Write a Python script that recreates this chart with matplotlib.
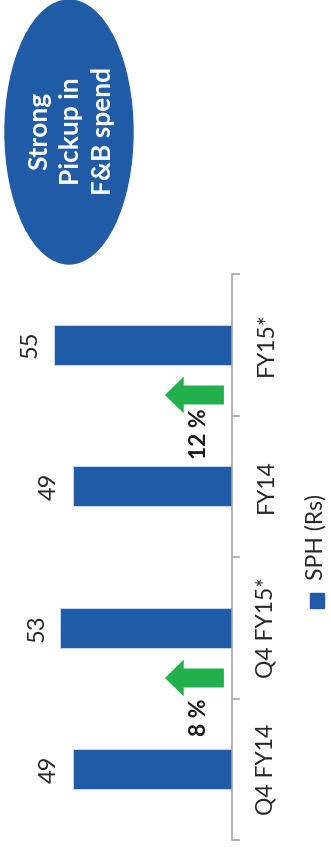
import matplotlib
matplotlib.use('Agg')
import matplotlib.pyplot as plt
from matplotlib.patches import Ellipse, FancyArrow, Rectangle

plt.rcParams['font.family'] = ['Lato', 'DejaVu Sans']

# SPH (spend per head) in Rs
categories = ['Q4 FY14', 'Q4 FY15*', 'FY14', 'FY15*']
sph = [49, 53, 49, 55]
# periods compared for growth: (from, to)
growth_pairs = [(0, 1), (2, 3)]

blue = '#1F5BA6'
green = '#22B04C'
grey = '#A6A6A6'
text_col = '#262626'

W, H = 331, 848
fig = plt.figure(figsize=(W / 100, H / 100), dpi=100)

# bars grow to the left from an axis on the right
ax = fig.add_axes([0, 8 / H, 232 / W, (840 - 274) / H])
pos = list(range(len(categories)))
ax.barh(pos, sph, height=0.28, color=blue, edgecolor='#D0DCEC', linewidth=0.6)
ax.set_xlim(71.6, 0)
ax.set_ylim(-0.5, 3.5)

for s in ['left', 'top', 'bottom']:
    ax.spines[s].set_visible(False)
ax.spines['right'].set_color(grey)
ax.spines['right'].set_linewidth(1.2)
ax.set_xticks([])
ax.yaxis.tick_right()
ax.set_yticks(pos)
ax.set_yticklabels(categories, rotation=90, va='center', fontsize=16.5, color=text_col)
ax.set_yticks([p - 0.5 for p in pos] + [pos[-1] + 0.5], minor=True)
ax.tick_params(axis='y', which='major', length=0, pad=17)
ax.tick_params(axis='y', which='minor', length=6, width=1.2, color=grey)

# value labels beyond the bar ends
for i, v in zip(pos, sph):
    ax.annotate(f'{v}', xy=(v, i), xytext=(-13, 0), textcoords='offset pixels',
                rotation=90, ha='right', va='center', fontsize=17, color=text_col)

# growth arrows with % labels
for a, b in growth_pairs:
    mid = (a + b) / 2
    pct = round((sph[b] / sph[a] - 1) * 100)
    ax.add_patch(FancyArrow(2.5, mid + 0.145, 18.2, 0, width=0.134, head_width=0.26,
                            head_length=5.8, length_includes_head=True,
                            color=green, lw=0))
    ax.text(9.9, mid - 0.13, f'{pct} %', rotation=90, ha='center', va='center',
            fontsize=16.5, fontweight='bold', color='#1a1a1a')

# legend
fig.add_artist(Rectangle((310 / W, 1 - 608 / H), 14 / W, 15 / H,
                         transform=fig.transFigure, color=blue))
fig.text(316 / W, 1 - 537 / H, 'SPH (Rs)', rotation=90, ha='center', va='center',
         fontsize=16.5, color=text_col)

# callout bubble
fig.add_artist(Ellipse((69 / W, 1 - 132 / H), 128 / W, 264 / H,
                       transform=fig.transFigure, color=blue))
fig.text(71 / W, 1 - 131 / H, 'Strong\nPickup in\nF&B spend', rotation=90,
         ha='center', va='center', multialignment='center', color='white',
         fontweight='bold', fontsize=19, linespacing=1.4)

fig.savefig('out.png', dpi=100)
